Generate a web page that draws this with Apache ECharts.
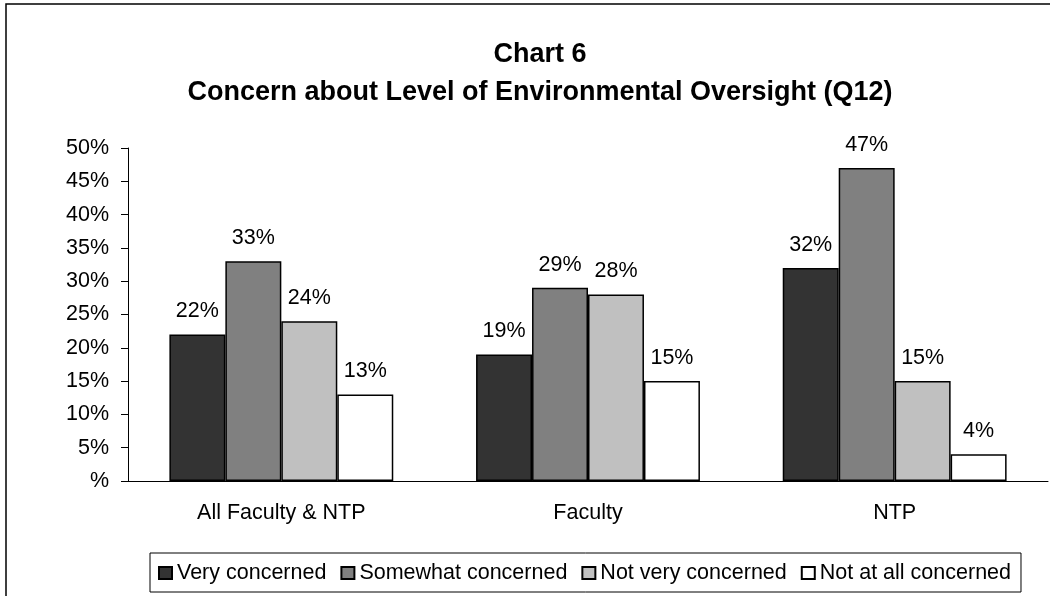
<!DOCTYPE html>
<html>
<head>
<meta charset="utf-8">
<script src="https://cdn.jsdelivr.net/npm/echarts@6/dist/echarts.min.js"></script>
<style>
  html, body { margin: 0; padding: 0; background: #fff; }
  #chart { width: 1050px; height: 596px; }
</style>
</head>
<body>
<div id="chart"></div>
<script>
const categories = ["All Faculty & NTP", "Faculty", "NTP"];
const veryConcerned = [22, 19, 32];
const somewhatConcerned = [33, 29, 47];
const notVeryConcerned = [24, 28, 15];
const notAtAllConcerned = [13, 15, 4];
const seriesNames = ["Very concerned", "Somewhat concerned", "Not very concerned", "Not at all concerned"];
const seriesColors = ["#333333", "#808080", "#c0c0c0", "#ffffff"];

const font = "Liberation Sans, Arial, sans-serif";
const fs = 21.5;
const chart = echarts.init(document.getElementById("chart"));

const seriesData = [veryConcerned, somewhatConcerned, notVeryConcerned, notAtAllConcerned];
const series = seriesData.map((data, i) => ({
  name: seriesNames[i],
  type: "bar",
  data: data,
  barGap: "0%",
  barCategoryGap: "27%",
  itemStyle: {
    color: seriesColors[i],
    borderColor: "#000",
    borderWidth: 1.5
  },
  label: {
    show: true,
    position: "top",
    distance: 12,
    formatter: "{c}%",
    fontFamily: font,
    fontSize: fs,
    color: "#000"
  }
}));

chart.setOption({
  animation: false,
  backgroundColor: "#fff",
  title: {
    text: "Chart 6\nConcern about Level of Environmental Oversight (Q12)",
    left: 535,
    textAlign: "center",
    top: 31,
    textStyle: {
      fontFamily: font,
      fontSize: 27,
      fontWeight: "bold",
      color: "#000",
      lineHeight: 38
    }
  },
  graphic: [{
    type: "rect",
    shape: { x: 6, y: 4, width: 1100, height: 700 },
    style: { fill: "none", stroke: "#000", lineWidth: 1.5 }
  }],
  legend: {
    left: 150,
    top: 553,
    padding: [9, 10, 8, 8],
    itemGap: 14,
    itemWidth: 13,
    itemHeight: 12,
    icon: "rect",
    borderColor: "#000",
    borderWidth: 1,
    textStyle: { fontFamily: font, fontSize: fs, color: "#000" },
    data: seriesNames
  },
  grid: { left: 128, right: 2, top: 148, bottom: 115 },
  xAxis: {
    type: "category",
    data: categories,
    axisLine: { lineStyle: { color: "#000", width: 1 } },
    axisTick: { length: 7, lineStyle: { color: "#000" } },
    axisLabel: { margin: 21, fontFamily: font, fontSize: fs, color: "#000" }
  },
  yAxis: {
    type: "value",
    min: 0,
    max: 50,
    interval: 5,
    axisLine: { show: true, lineStyle: { color: "#000", width: 1 } },
    axisTick: { show: true, length: 7, lineStyle: { color: "#000" } },
    splitLine: { show: false },
    axisLabel: {
      margin: 19,
      fontFamily: font,
      fontSize: fs,
      color: "#000",
      formatter: v => (v === 0 ? "%" : v + "%")
    }
  },
  series: series
});
</script>
</body>
</html>
